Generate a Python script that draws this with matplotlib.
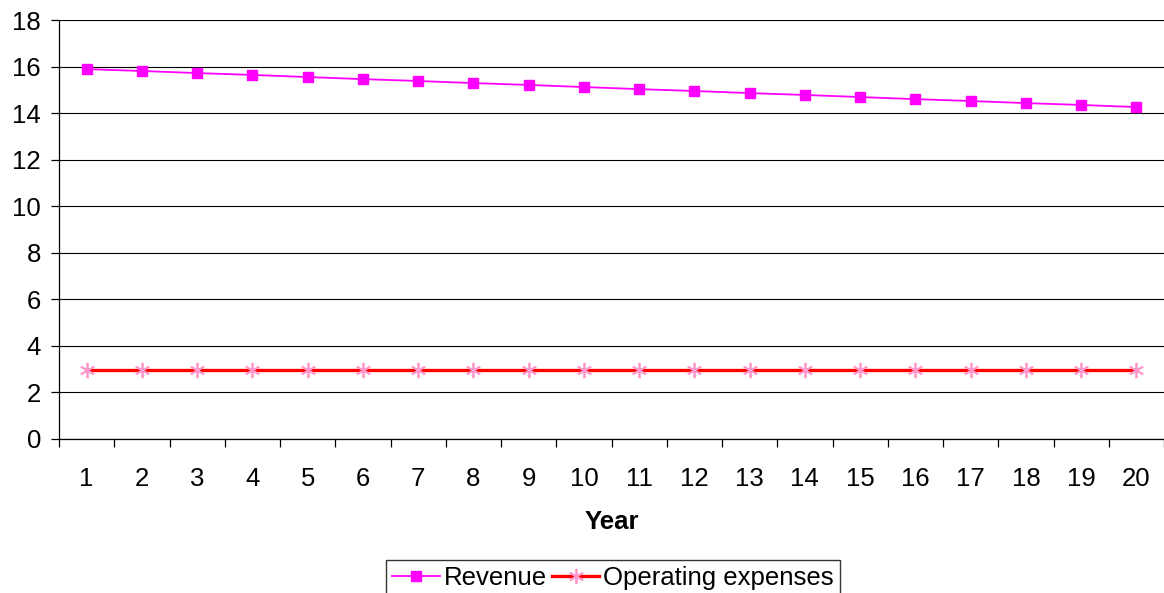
import matplotlib
matplotlib.use("Agg")
import matplotlib.pyplot as plt
from matplotlib.ticker import FixedLocator, MultipleLocator

plt.rcParams['font.family'] = ['Liberation Sans', 'DejaVu Sans']

years = list(range(1, 21))
revenue = [15.89, 15.81, 15.72, 15.64, 15.55, 15.46, 15.38, 15.29, 15.21, 15.12,
           15.03, 14.95, 14.86, 14.78, 14.69, 14.60, 14.52, 14.43, 14.35, 14.26]
operating_expenses = [2.96] * 20

FS = 18.5

fig = plt.figure(figsize=(11.64, 5.93), dpi=100)
ax = fig.add_axes([59 / 1164, 1 - 439 / 593, 1 - 59 / 1164, (439 - 20) / 593])

ax.plot(years, revenue, color='#FF00FF', lw=1.3, marker='s', ms=7,
        mfc='#FF00FF', mec='#FF00FF', label='Revenue', zorder=3)
ax.plot(years, operating_expenses, color='#FF0000', lw=2.4, marker=(6, 2, 0), ms=11,
        mec='#FF99CC', mew=1.3, label='Operating expenses', zorder=3)

ax.set_xlim(0.5, 20.5)
ax.set_ylim(0, 18)
ax.yaxis.set_major_locator(MultipleLocator(2))
ax.set_xticks(years)
ax.set_xticklabels([str(y) for y in years])
ax.xaxis.set_minor_locator(FixedLocator([y + 0.5 for y in range(0, 21)]))

ax.grid(axis='y', color='#000000', lw=0.8)
ax.set_axisbelow(True)
for side in ('top', 'right'):
    ax.spines[side].set_visible(False)
for side in ('left', 'bottom'):
    ax.spines[side].set_color('#000000')
    ax.spines[side].set_linewidth(0.9)

ax.tick_params(axis='x', which='major', length=0, pad=20, labelsize=FS)
ax.tick_params(axis='x', which='minor', length=6, width=0.9, direction='out')
ax.tick_params(axis='y', length=6, width=0.9, pad=7, labelsize=FS)

ax.set_xlabel('Year', fontsize=FS, fontweight='bold', labelpad=14)

leg = fig.legend(loc='upper center', bbox_to_anchor=(613 / 1164, 1 - 560 / 593),
                 ncol=2, frameon=True, fancybox=False, fontsize=FS,
                 handlelength=1.85, handletextpad=0.15, columnspacing=0.2,
                 borderpad=0.25, borderaxespad=0)
leg.get_frame().set_edgecolor('#000000')
leg.get_frame().set_linewidth(1.0)

fig.savefig('out.png', dpi=100)
